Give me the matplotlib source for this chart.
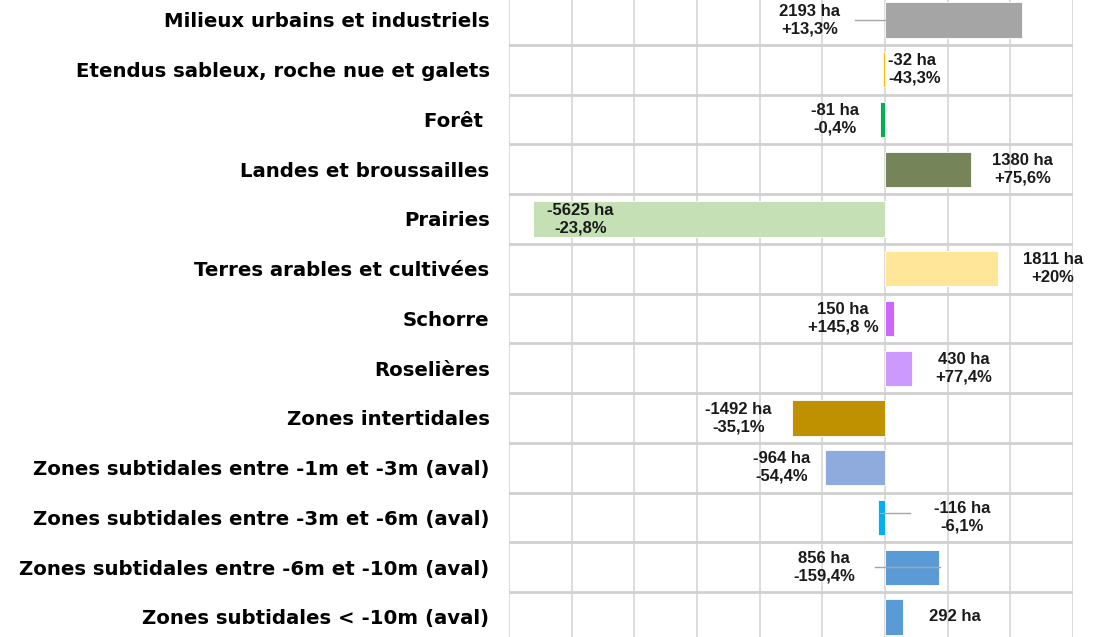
import numpy as np
import matplotlib
matplotlib.use('Agg')
import matplotlib.pyplot as plt

# categories, top to bottom
categories = ['Milieux urbains et industriels',
              'Etendus sableux, roche nue et galets',
              'Forêt ',
              'Landes et broussailles',
              'Prairies',
              'Terres arables et cultivées',
              'Schorre',
              'Roselières',
              'Zones intertidales',
              'Zones subtidales entre -1m et -3m (aval)',
              'Zones subtidales entre -3m et -6m (aval)',
              'Zones subtidales entre -6m et -10m (aval)',
              'Zones subtidales < -10m (aval)']

# change in hectares
values = [2193, -32, -81, 1380, -5625, 1811, 150, 430, -1492, -964, -116, 856, 292]

# label texts
labels = ['2193 ha\n+13,3%', '-32 ha\n-43,3%', '-81 ha\n-0,4%', '1380 ha\n+75,6%',
          '-5625 ha\n-23,8%', '1811 ha\n+20%', '150 ha\n+145,8 %', '430 ha\n+77,4%',
          '-1492 ha\n-35,1%', '-964 ha\n-54,4%', '-116 ha\n-6,1%', '856 ha\n-159,4%',
          '292 ha']

colors = ['#a5a5a5', '#ffc000', '#00b050', '#76845a', '#c5e0b4', '#ffe699', '#cc66ff',
          '#cc99ff', '#bf9000', '#8faadc', '#00b0f0', '#5b9bd5', '#5b9bd5']

# label offsets from bar end (pixels)
offs = [-212, 0, -45, 51, 48, 54, -51, 52, -53, -43, 84, -114, 51]
# leader lines (pixels from zero): (start, end, dy)
leaders = {0: (-30, 0, 0), 10: (-5, 25, -0.08), 11: (-10, 55, 0)}

fig = plt.figure(figsize=(11.1, 6.37), dpi=100)
ax = fig.add_axes([509/1110, -4.8/637, 564/1110, 646.75/637])

y = np.arange(len(categories))
ax.barh(y, values, height=0.71, color=colors, edgecolor='white', linewidth=0.6, zorder=3)

ax.set_xlim(-6000, 3000)
ax.set_ylim(len(categories) - 0.5, -0.5)
ax.set_xticks(np.arange(-6000, 3001, 1000))
ax.set_xticklabels([])
ax.set_yticks(y)
ax.set_yticklabels(categories, fontsize=14.2, fontweight='bold', family='DejaVu Sans')
ax.set_yticks(np.arange(-0.5, len(categories)), minor=True)
ax.tick_params(axis='both', which='both', length=0)
ax.tick_params(axis='y', pad=14)
ax.grid(axis='x', which='major', color='#d9d9d9', linewidth=1.3, zorder=0)
ax.grid(axis='y', which='minor', color='#d0d0d0', linewidth=2, zorder=0)
for s in ax.spines.values():
    s.set_visible(False)

px = 16.0  # data units per pixel
for i, (v, lab, o) in enumerate(zip(values, labels, offs)):
    if i == 1:
        ax.text(3 * px, i, lab, ha='left', va='center', fontsize=12,
                fontweight='bold', family='Liberation Sans', linespacing=1.22,
                color='#1a1a1a', zorder=4)
    else:
        ax.text(v + o * px, i, lab, ha='center', va='center', fontsize=12,
                fontweight='bold', family='Liberation Sans', linespacing=1.22,
                color='#1a1a1a', zorder=4)
    if i in leaders:
        a, b, dy = leaders[i]
        ax.plot([a * px, b * px], [i + dy, i + dy], color='#a6a6a6', lw=1, zorder=5)

fig.savefig('out.png', dpi=100)
